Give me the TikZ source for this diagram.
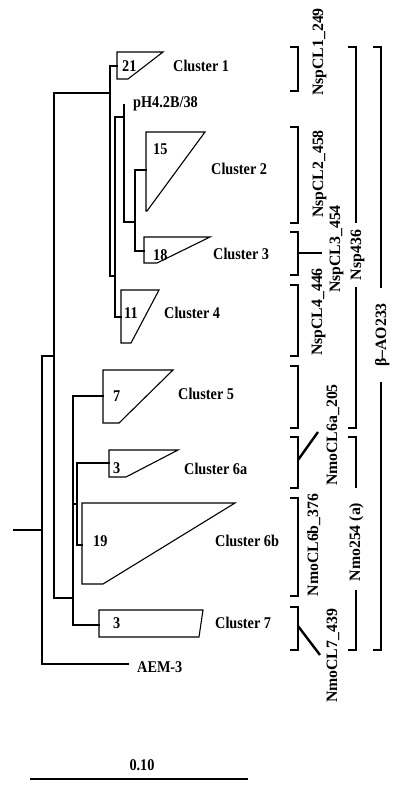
\documentclass[tikz,border=0pt]{standalone}
\usepackage{fontspec}
\setmainfont{Liberation Serif}
\newfontfamily\condfam[FakeStretch=0.87]{Liberation Serif}
\newcommand\hfnt{\condfam\fontsize{16.4}{18}\selectfont\bfseries}
\newcommand\rfnt{\fontsize{15.8}{17}\selectfont\bfseries}
\tikzset{
  tree/.style={line width=1.1pt, line cap=rect},
  clade/.style={line width=1.1pt, line join=miter},
  brk/.style={line width=2.4pt, line join=miter},
  lab/.style={font=\hfnt, anchor=base west, inner sep=0pt},
  rlab/.style={font=\rfnt, rotate=90, anchor=base, inner sep=0pt},
}
\begin{document}
\begin{tikzpicture}[x=1pt,y=-1pt]
\useasboundingbox[fill=white] (0,0) rectangle (400,793);
% ---------- tree ----------
\coordinate (root) at (42,530);
\draw[tree] (14,530) -- (root);
\draw[tree] (128,664) -- (42,664) -- (42,356) -- (54,356);
\draw[tree] (110,93) -- (54,93) -- (54,598) -- (73,598);
\draw[tree] (117,66) -- (110,66) -- (110,276) -- (115,276);
\draw[tree] (124,117) -- (115,117) -- (115,317) -- (121,317);
\draw[tree] (124,105) -- (124,222) -- (135,222);
\draw[tree] (146,170) -- (135,170) -- (135,251) -- (144,251);
\draw[tree] (103,396) -- (73,396) -- (73,625) -- (99,625);
\draw[tree] (73,504) -- (77,504);
\draw[tree] (109,463) -- (77,463) -- (77,545) -- (82,545);
% ---------- collapsed clusters ----------
\draw[clade] (117,52) -- (163,52) -- (128,79) -- (117,79) -- cycle;
\draw[clade] (146,132) -- (205,132) -- (147,211) -- (146,211) -- cycle;
\draw[clade] (144,237) -- (210,237) -- (157,263) -- (144,263) -- cycle;
\draw[clade] (121,290) -- (159,290) -- (131,343) -- (121,343) -- cycle;
\draw[clade] (103,370) -- (173,370) -- (119,423) -- (103,423) -- cycle;
\draw[clade] (109,450) -- (178,450) -- (126,477) -- (109,477) -- cycle;
\draw[clade] (82,503) -- (235,503) -- (103,584) -- (82,584) -- cycle;
\draw[clade] (99,610) -- (203,610) -- (199,637) -- (99,637) -- cycle;
% numbers
\node[lab] (n1) at (122,71) {21};
\node[lab] (n2) at (153,154) {15};
\node[lab] (n3) at (153,260) {18};
\node[lab] (n4) at (124,318) {11};
\node[lab] (n5) at (113,401) {7};
\node[lab] (n6a) at (113,473) {3};
\node[lab] (n6b) at (93,546) {19};
\node[lab] (n7) at (113,628) {3};
% cluster labels
\node[lab] (c1) at (173,71) {Cluster 1};
\node[lab] (ph) at (133,107) {pH4.2B/38};
\node[lab] (c2) at (211,174) {Cluster 2};
\node[lab] (c3) at (213,259) {Cluster 3};
\node[lab] (c4) at (164,318) {Cluster 4};
\node[lab] (c5) at (178,399) {Cluster 5};
\node[lab] (c6a) at (184,474) {Cluster 6a};
\node[lab] (c6b) at (215,546) {Cluster 6b};
\node[lab] (c7) at (215,628) {Cluster 7};
\node[lab] (aem) at (137,672) {AEM-3};
% scale bar
\draw[line width=1.3pt] (30,779) -- (248,779);
\node[font=\hfnt, anchor=base, inner sep=0pt] (sb) at (142,770) {0.10};
% ---------- probe brackets ----------
\draw[brk] (290,47) -- (298,47) -- (298,91) -- (290,91);
\draw[brk] (290,127) -- (298,127) -- (298,223) -- (290,223);
\draw[brk] (290,232) -- (298,232) -- (298,275) -- (290,275);
\draw[brk] (298,253) -- (322,253);
\draw[brk] (290,285) -- (298,285) -- (298,356) -- (290,356);
\draw[brk] (290,366) -- (298,366) -- (298,428) -- (290,428);
\draw[brk] (290,437) -- (298,437) -- (298,488) -- (290,488);
\draw[brk] (298,460) -- (318,432);
\draw[brk] (290,498) -- (298,498) -- (298,596) -- (290,596);
\draw[brk] (290,607) -- (298,607) -- (298,650) -- (290,650);
\draw[brk] (298,626) -- (320,655);
\draw[brk] (348,47) -- (356,47) -- (356,223);
\draw[brk] (356,287) -- (356,428) -- (348,428);
\draw[brk] (348,437) -- (356,437) -- (356,488);
\draw[brk] (356,590) -- (356,650) -- (348,650);
\draw[brk] (373,47) -- (381,47) -- (381,288);
\draw[brk] (381,382) -- (381,650) -- (373,650);
% probe labels
\node[rlab] (p1) at (323,52) {NspCL1\_249};
\node[rlab] (p2) at (323,174) {NspCL2\_458};
\node[rlab] (p3) at (340,249) {NspCL3\_454};
\node[rlab] (p4) at (322,312) {NspCL4\_446};
\node[rlab] (p436) at (361,255) {Nsp436};
\node[rlab] (pb) at (386,335) {β–AO233};
\node[rlab] (p6a) at (337,435) {NmoCL6a\_205};
\node[rlab] (p6b) at (318,545) {NmoCL6b\_376};
\node[rlab] (p254) at (360,542) {Nmo254 (a)};
\node[rlab] (p7) at (337,656) {NmoCL7\_439};
\end{tikzpicture}
\end{document}
